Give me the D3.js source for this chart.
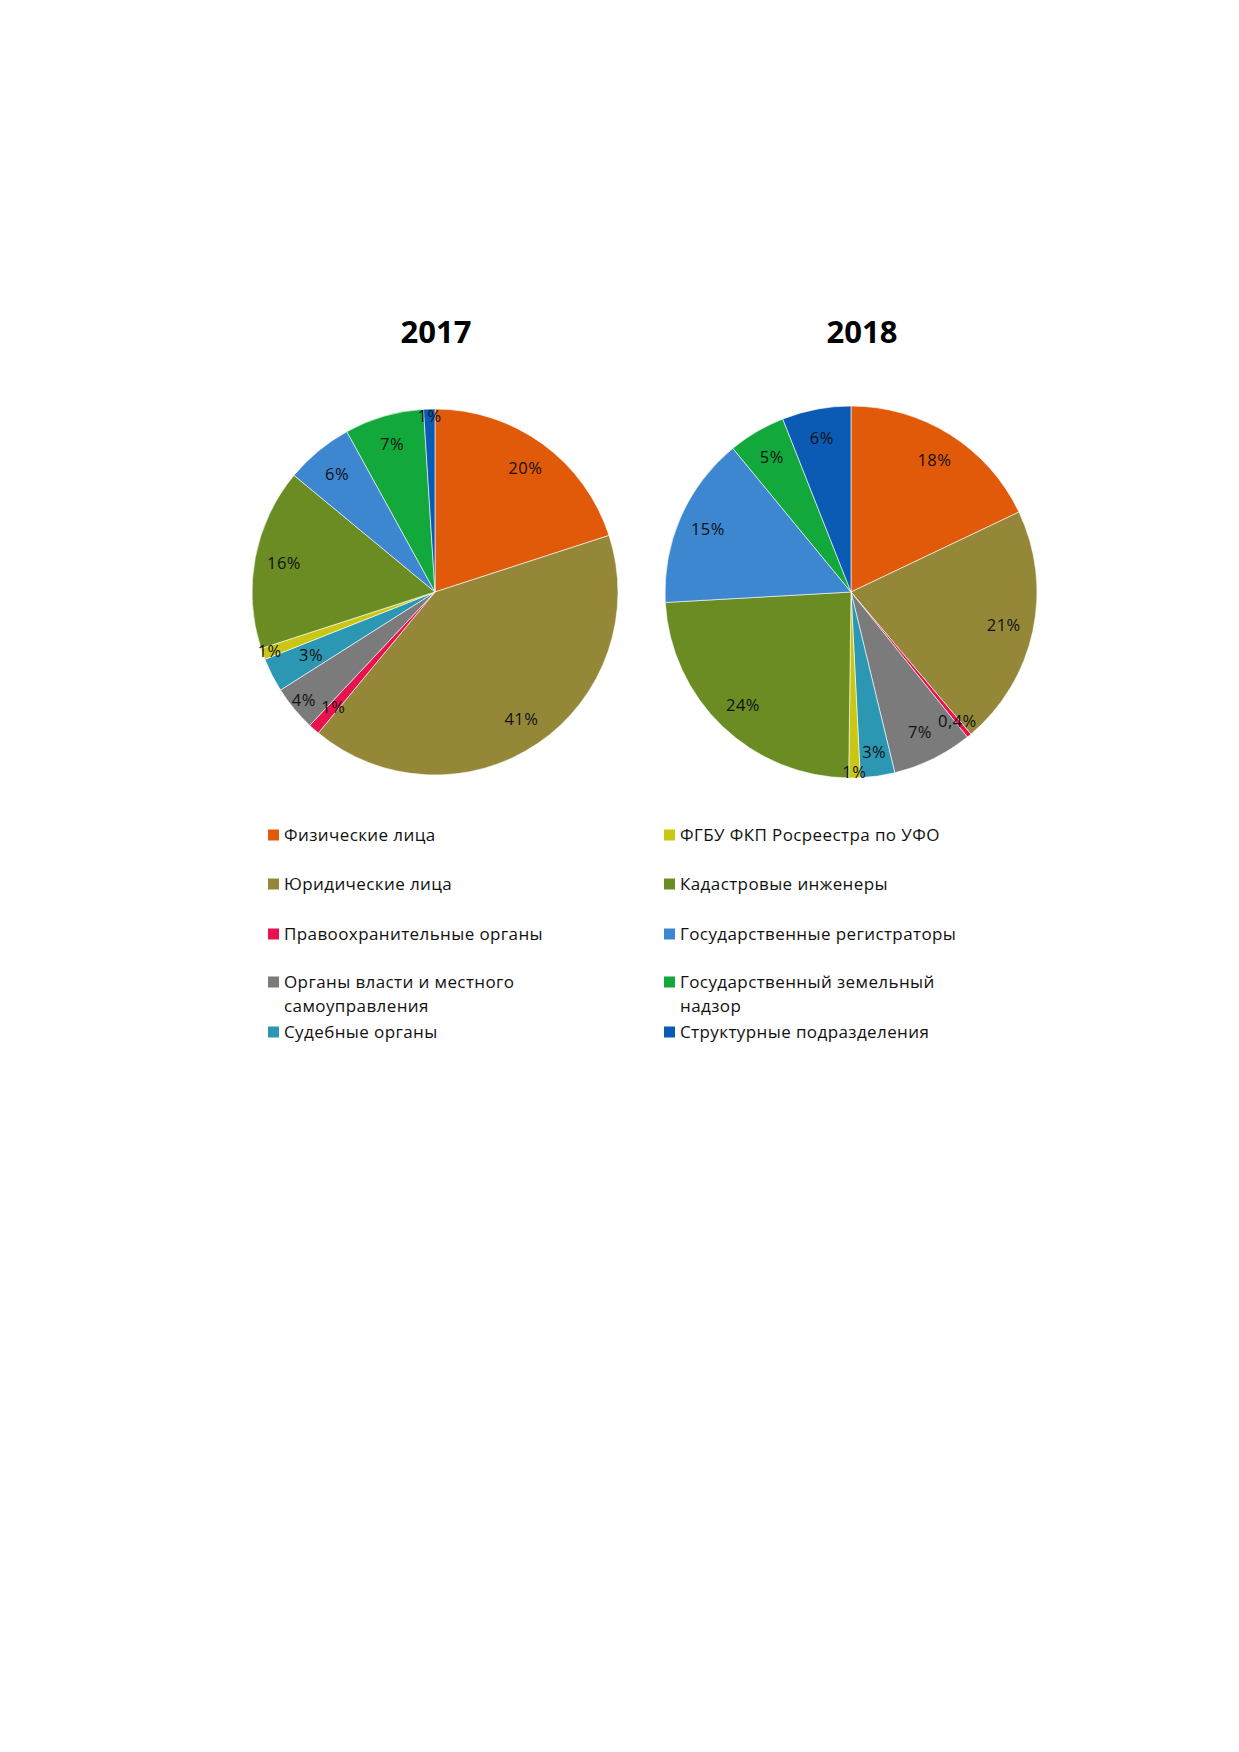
<!DOCTYPE html>
<html>
<head>
<meta charset="utf-8">
<script src="https://cdn.jsdelivr.net/npm/d3@7"></script>
<style>
  body { margin: 0; background: #fff; }
  svg { display: block; }
</style>
</head>
<body>
<script>
// categories, in legend / slice order
var categories = [
  "Физические лица",
  "Юридические лица",
  "Правоохранительные органы",
  "Органы власти и местного самоуправления",
  "Судебные органы",
  "ФГБУ ФКП Росреестра по УФО",
  "Кадастровые инженеры",
  "Государственные регистраторы",
  "Государственный земельный надзор",
  "Структурные подразделения"
];
var years = ["2017", "2018"];
var values2017 = [20, 41, 1, 4, 3, 1, 16, 6, 7, 1];
var values2018 = [18, 21, 0.4, 7, 3, 1, 24, 15, 5, 6];
var labels2017 = ["20%", "41%", "1%", "4%", "3%", "1%", "16%", "6%", "7%", "1%"];
var labels2018 = ["18%", "21%", "0,4%", "7%", "3%", "1%", "24%", "15%", "5%", "6%"];

var colors = ["#e05a0a", "#948838", "#e8124f", "#7b7b7b", "#2c97b3",
              "#c9c714", "#6a8c22", "#3d87d0", "#12a83c", "#0b5bb4"];

var W = 1239, H = 1752;
var FONT = "'Open Sans', 'DejaVu Sans', sans-serif";
var svg = d3.select("body").append("svg").attr("width", W).attr("height", H);

var color = d3.scaleOrdinal().domain(categories).range(colors);
var pie = d3.pie().sort(null).value(function(d) { return d.v; });

// labelPos: per-slice label radius (fraction of r) where Excel's best fit moved it
function drawPie(title, vals, labs, cx, cy, r, tx, labelPos) {
  var data = vals.map(function(v, i) { return {v: v, c: categories[i], l: labs[i], i: i}; });
  var arcs = pie(data);
  var arc = d3.arc().innerRadius(0).outerRadius(r);

  svg.append("text")
    .attr("x", tx).attr("y", 343)
    .attr("text-anchor", "middle")
    .attr("font-family", FONT)
    .attr("font-weight", "bold")
    .attr("font-size", 31)
    .attr("fill", "#000")
    .text(title);

  var g = svg.append("g").attr("transform", "translate(" + cx + "," + cy + ")");
  g.selectAll("path").data(arcs).enter().append("path")
    .attr("d", arc)
    .attr("fill", function(d) { return color(d.data.c); })
    .attr("stroke", "#ffffff")
    .attr("stroke-width", 0.6);

  g.selectAll("text").data(arcs).enter().append("text")
    .attr("transform", function(d) {
      var k = labelPos[d.data.i] || 0.84;
      var p = d3.arc().innerRadius(r * k).outerRadius(r * k).centroid(d);
      return "translate(" + p[0] + "," + p[1] + ")";
    })
    .attr("dy", "0.36em")
    .attr("text-anchor", "middle")
    .attr("font-family", FONT)
    .attr("font-size", 16.5)
    .attr("letter-spacing", 0.5)
    .attr("fill", "#111")
    .text(function(d) { return d.data.l; });
}

drawPie(years[0], values2017, labels2017, 435, 592, 183, 436, {3: 0.93, 4: 0.76, 5: 0.96, 9: 0.96});
drawPie(years[1], values2018, labels2018, 851, 592, 186, 862, {2: 0.9, 4: 0.87, 5: 0.97});

// legend: two columns of five
var legend = svg.append("g")
  .attr("font-family", FONT)
  .attr("font-size", 17)
  .attr("letter-spacing", 0.4)
  .attr("fill", "#111");
var rowY = [835, 884, 934, 982, 1032];
categories.forEach(function(c, i) {
  var col = Math.floor(i / 5), row = i % 5;
  var x = col === 0 ? 268 : 664;
  var y = rowY[row];
  legend.append("rect")
    .attr("x", x).attr("y", y - 5.5)
    .attr("width", 11).attr("height", 11)
    .attr("fill", color(c));
  var t = legend.append("text").attr("x", x + 16).attr("y", y + 6);
  var lines = c === "Органы власти и местного самоуправления" ? ["Органы власти и местного", "самоуправления"]
            : c === "Государственный земельный надзор" ? ["Государственный земельный", "надзор"]
            : [c];
  lines.forEach(function(s, k) {
    t.append("tspan").attr("x", x + 16).attr("dy", k === 0 ? 0 : 24).text(s);
  });
});
</script>
</body>
</html>
